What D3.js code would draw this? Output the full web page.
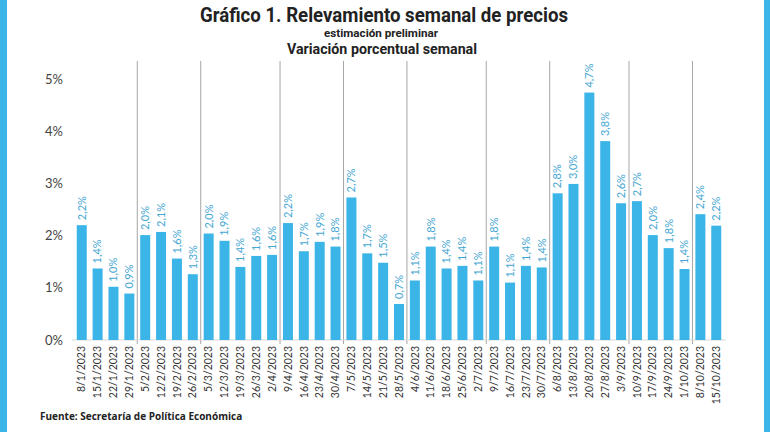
<!DOCTYPE html>
<html>
<head>
<meta charset="utf-8">
<title>Relevamiento semanal de precios</title>
<style>
  body { margin: 0; background: #fff; }
  svg { display: block; }
</style>
<script src="https://cdn.jsdelivr.net/npm/d3@7"></script>
</head>
<body>
<svg id="chart" width="770" height="432"></svg>
<script>
// semanas (fecha de inicio) y variacion semanal en %
const weeks = ["8/1/2023", "15/1/2023", "22/1/2023", "29/1/2023", "5/2/2023", "12/2/2023", "19/2/2023", "26/2/2023",
  "5/3/2023", "12/3/2023", "19/3/2023", "26/3/2023", "2/4/2023", "9/4/2023", "16/4/2023", "23/4/2023", "30/4/2023",
  "7/5/2023", "14/5/2023", "21/5/2023", "28/5/2023", "4/6/2023", "11/6/2023", "18/6/2023", "25/6/2023", "2/7/2023",
  "9/7/2023", "16/7/2023", "23/7/2023", "30/7/2023", "6/8/2023", "13/8/2023", "20/8/2023", "27/8/2023", "3/9/2023",
  "10/9/2023", "17/9/2023", "24/9/2023", "1/10/2023", "8/10/2023", "15/10/2023"];
const variation = [2.20, 1.37, 1.02, 0.89, 2.01, 2.07, 1.56, 1.26, 2.04, 1.90, 1.40, 1.61, 1.63, 2.24, 1.70, 1.88, 1.79,
  2.73, 1.66, 1.48, 0.69, 1.14, 1.79, 1.37, 1.42, 1.14, 1.79, 1.10, 1.42, 1.39, 2.81, 2.99, 4.74, 3.81, 2.62,
  2.66, 2.01, 1.76, 1.36, 2.41, 2.19];
// ultima semana de cada grupo mensual (separadores)
const monthBreaks = ["29/1/2023", "26/2/2023", "2/4/2023", "30/4/2023", "28/5/2023", "2/7/2023", "30/7/2023", "3/9/2023", "1/10/2023"];
const yTicks = [0, 1, 2, 3, 4, 5];

const svg = d3.select("#chart");
const W = 770, H = 432;
const BLUE = "#3bb4e7";

// marco celeste a los costados
svg.append("rect").attr("x", 0).attr("y", 0).attr("width", 7).attr("height", H).attr("fill", BLUE);
svg.append("rect").attr("x", 764).attr("y", 0).attr("width", 6).attr("height", H).attr("fill", BLUE);

// titulos
svg.append("text").attr("x", 384).attr("y", 22)
  .attr("text-anchor", "middle")
  .attr("textLength", 368).attr("lengthAdjust", "spacingAndGlyphs")
  .style("font-family", "Roboto").style("font-weight", "bold").style("font-size", "20px").style("fill", "#222")
  .text("Gráfico 1. Relevamiento semanal de precios");
svg.append("text").attr("x", 381).attr("y", 37)
  .attr("text-anchor", "middle")
  .attr("textLength", 114).attr("lengthAdjust", "spacingAndGlyphs")
  .style("font-family", "Roboto").style("font-weight", "bold").style("font-size", "11px").style("fill", "#222")
  .text("estimación preliminar");
svg.append("text").attr("x", 382).attr("y", 54)
  .attr("text-anchor", "middle")
  .attr("textLength", 190).attr("lengthAdjust", "spacingAndGlyphs")
  .style("font-family", "Roboto").style("font-weight", "bold").style("font-size", "15px").style("fill", "#222")
  .text("Variación porcentual semanal");

const x = d3.scaleBand()
  .domain(weeks)
  .range([72, 726])
  .paddingInner(0.37)
  .paddingOuter(0.3);

const y = d3.scaleLinear()
  .domain([0, 5])
  .range([340, 79]);

// eje y
const yAxis = svg.append("g")
  .attr("transform", "translate(66,0)")
  .call(d3.axisLeft(y).tickValues(yTicks).tickFormat(d => d + "%").tickSize(0));
yAxis.select(".domain").remove();
yAxis.selectAll("text")
  .style("font-family", "Lato").style("font-size", "13px").style("fill", "#444");

// separadores de meses
svg.append("g").selectAll("line")
  .data(monthBreaks)
  .join("line")
  .attr("x1", d => x(d) + x.bandwidth() / 2 + x.step() / 2)
  .attr("x2", d => x(d) + x.bandwidth() / 2 + x.step() / 2)
  .attr("y1", 61)
  .attr("y2", 344)
  .style("stroke", "#a6a6a6")
  .style("stroke-width", 1);

// linea base
svg.append("line")
  .attr("x1", x.range()[0]).attr("x2", x.range()[1])
  .attr("y1", y(0)).attr("y2", y(0))
  .style("stroke", "#d9d9d9");

// barras
svg.append("g").selectAll("rect")
  .data(weeks)
  .join("rect")
  .attr("x", d => x(d))
  .attr("y", (d, i) => y(variation[i]))
  .attr("width", x.bandwidth())
  .attr("height", (d, i) => y(0) - y(variation[i]))
  .style("fill", BLUE);

// etiquetas de valores
const fmt = v => d3.format(".1f")(v).replace(".", ",") + "%";
svg.append("g").selectAll("text")
  .data(weeks)
  .join("text")
  .attr("transform", (d, i) => `translate(${x(d) + x.bandwidth() / 2},${y(variation[i]) - 5}) rotate(-90)`)
  .attr("dy", "0.35em")
  .style("font-family", "Lato").style("font-size", "11px").style("fill", "#45a7d3")
  .text((d, i) => fmt(variation[i]));

// eje x
const xAxis = svg.append("g")
  .attr("transform", `translate(0,${y(0)})`)
  .call(d3.axisBottom(x).tickSize(0).tickPadding(0));
xAxis.select(".domain").remove();
xAxis.selectAll("text")
  .attr("transform", "rotate(-90)")
  .attr("x", -6).attr("y", 0).attr("dy", "0.35em")
  .style("text-anchor", "end")
  .style("font-family", "Lato").style("font-size", "10.5px").style("fill", "#333");

// fuente
svg.append("text").attr("x", 40).attr("y", 420)
  .style("font-family", "Open Sans").style("font-weight", "bold").style("font-size", "10px").style("fill", "#222")
  .text("Fuente: Secretaría de Política Económica");
</script>
</body>
</html>
